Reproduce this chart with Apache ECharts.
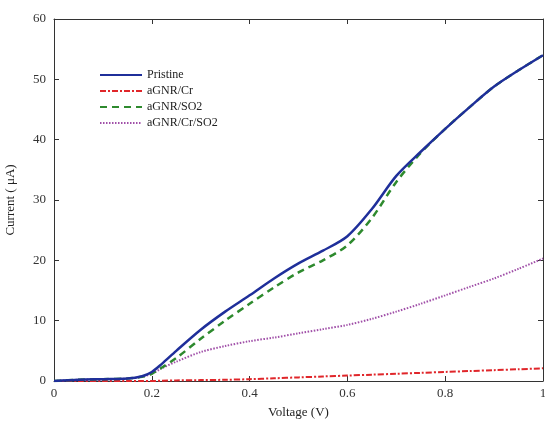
<!DOCTYPE html>
<html><head><meta charset="utf-8">
<script src="https://cdn.jsdelivr.net/npm/echarts@6/dist/echarts.min.js"></script>
<style>html,body{margin:0;padding:0;background:#fff}#c{width:545px;height:425px}</style>
</head><body><div id="c"></div>
<script>
const voltage = [0,0.05,0.1,0.15,0.18,0.2,0.22,0.25,0.3,0.35,0.4,0.45,0.5,0.55,0.6,0.65,0.7,0.75,0.8,0.85,0.9,0.95,1.0];
const pristine = [0,0.2,0.3,0.4,0.8,1.5,2.8,5,8.5,11.5,14.2,17,19.5,21.6,24,28.5,34,38,41.8,45.4,48.8,51.5,54];
const aGNR_Cr = [0,0,0,0,0,0,0.05,0.1,0.15,0.2,0.3,0.45,0.6,0.75,0.9,1.05,1.2,1.35,1.5,1.65,1.8,1.95,2.1];
const aGNR_SO2 = [0,0.2,0.3,0.4,0.7,1.2,2.2,3.8,7,10,12.8,15.5,18,20,22.5,27,33,37.8,41.8,45.4,48.8,51.5,54];
const aGNR_Cr_SO2 = [0,0.2,0.3,0.4,0.7,1.2,2.1,3.2,4.8,5.8,6.6,7.2,7.9,8.6,9.3,10.3,11.5,12.8,14.2,15.6,17,18.6,20.3];
const seriesNames = ['Pristine','aGNR/Cr','aGNR/SO2','aGNR/Cr/SO2'];
const xTicks = [0,0.2,0.4,0.6,0.8,1];
const yTicks = [0,10,20,30,40,50,60];

const font = 'Liberation Serif';
function pairs(ys){return voltage.map((v,i)=>[v,ys[i]]);}
const chart = echarts.init(document.getElementById('c'));
const axisLine = {show:true,onZero:false,lineStyle:{color:'#333',width:1}};
const tick = {inside:true,length:5,lineStyle:{color:'#333'}};
chart.setOption({
  animation:false,
  grid:{left:54,right:2,top:19,bottom:44,outerBoundsMode:'none',containLabel:false},
  legend:{
    orient:'vertical',left:94,top:64,itemWidth:42,itemHeight:10,itemGap:4,
    itemStyle:{opacity:0},
    textStyle:{fontFamily:font,fontSize:12,color:'#222'},
    data:seriesNames
  },
  xAxis:[{
    type:'value',min:0,max:1,interval:0.2,
    name:'Voltage (V)',nameLocation:'middle',nameGap:25,
    nameTextStyle:{fontFamily:font,fontSize:13,color:'#222'},
    axisLine,axisTick:tick,
    axisLabel:{fontFamily:font,fontSize:13,color:'#333',margin:6,formatter:v=>String(+(+v).toFixed(1))},
    splitLine:{show:false}
  },{
    type:'value',min:0,max:1,interval:0.2,position:'top',
    axisLine,axisTick:tick,axisLabel:{show:false},splitLine:{show:false}
  }],
  yAxis:[{
    type:'value',min:0,max:60,interval:10,
    name:'Current ( \u03bcA)',nameLocation:'middle',nameGap:37,
    nameTextStyle:{fontFamily:font,fontSize:13,color:'#222'},
    axisLine,axisTick:tick,
    axisLabel:{fontFamily:font,fontSize:13,color:'#333',margin:8},
    splitLine:{show:false}
  },{
    type:'value',min:0,max:60,interval:10,position:'right',
    axisLine,axisTick:tick,axisLabel:{show:false},splitLine:{show:false}
  }],
  series:[
    {name:seriesNames[0],type:'line',data:pairs(pristine),smooth:0.3,symbol:'none',lineStyle:{color:'#1f2f9a',width:2.5,type:'solid'},itemStyle:{color:'#1f2f9a'},z:4},
    {name:seriesNames[1],type:'line',data:pairs(aGNR_Cr),smooth:0.3,symbol:'none',lineStyle:{color:'#e0262a',width:2,type:[6,2,2,2]},itemStyle:{color:'#e0262a'},z:3},
    {name:seriesNames[2],type:'line',data:pairs(aGNR_SO2),smooth:0.3,symbol:'none',lineStyle:{color:'#2e8a2e',width:2.5,type:[7,5]},itemStyle:{color:'#2e8a2e'},z:3},
    {name:seriesNames[3],type:'line',data:pairs(aGNR_Cr_SO2),smooth:0.3,symbol:'none',lineStyle:{color:'#a04fa8',width:2,type:[1.5,1.5]},itemStyle:{color:'#a04fa8'},z:2}
  ]
});
</script></body></html>
